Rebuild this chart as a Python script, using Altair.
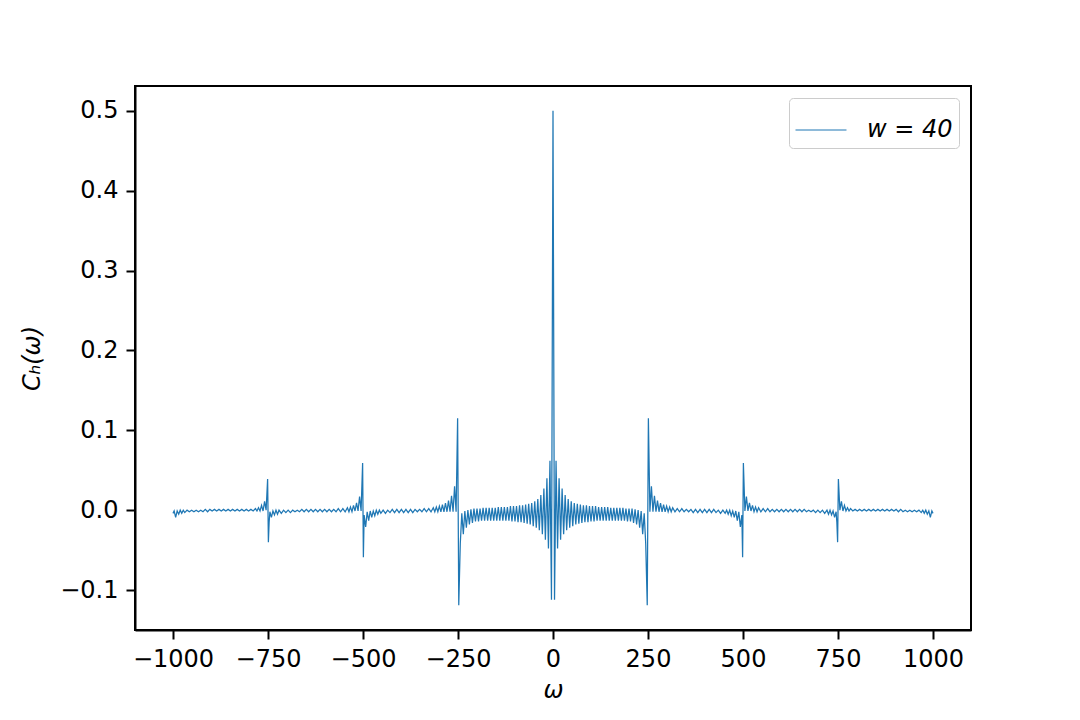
import altair as alt
import pandas as pd

# ---- data (positive half, omega >= 0; the curve is symmetric about omega = 0) ----
omega_a = [0, 4, 8, 12, 16, 20, 24, 28, 32, 36, 40, 44, 48, 52, 56, 60, 64, 68, 72, 76,
           80, 84, 88, 92, 96, 100, 104, 108, 112, 116, 120, 124, 128, 132, 136, 140,
           144, 148, 152, 156, 160, 164, 168, 172, 176, 180, 184, 188, 192, 196, 200,
           204, 208, 212, 216, 220, 224, 228, 232, 236, 240, 244, 248]
c_a = [0.5, -0.112, 0.062, -0.048, 0.040, -0.037, 0.027, -0.030, 0.019, -0.025,
       0.014, -0.022, 0.011, -0.020, 0.009, -0.018, 0.008, -0.017, 0.007, -0.016,
       0.006, -0.015, 0.006, -0.015, 0.005, -0.014, 0.005, -0.014, 0.005, -0.013,
       0.004, -0.013, 0.004, -0.013, 0.004, -0.013, 0.004, -0.013, 0.003, -0.013,
       0.003, -0.013, 0.003, -0.013, 0.003, -0.013, 0.003, -0.013, 0.002, -0.014,
       0.002, -0.014, 0.002, -0.016, 0.001, -0.018, 0.000, -0.022, -0.001, -0.030,
       -0.004, -0.042, -0.119]

omega_b = [251, 255, 259, 263, 267, 271, 275, 279, 283, 287, 291, 295, 299, 303, 307,
           311, 315, 321, 327, 333, 339, 345, 351, 357, 363, 369, 375, 381, 387, 393,
           399, 405, 411, 417, 423, 429, 435, 441, 447, 453, 457, 461, 465, 469, 473,
           477, 481, 485, 489, 493, 497, 499]
c_b = [0.115, -0.002, 0.030, -0.002, 0.018, -0.002, 0.012, -0.002, 0.009, -0.002,
       0.007, -0.002, 0.005, -0.002, 0.004, -0.002, 0.003, -0.002, 0.002, -0.002,
       0.002, -0.002, 0.001, -0.002, 0.001, -0.003, 0.001, -0.003, 0.001, -0.003,
       0.001, -0.003, 0.001, -0.003, 0.001, -0.003, 0.000, -0.004, 0.000, -0.004,
       0.000, -0.005, 0.000, -0.007, -0.001, -0.009, -0.001, -0.013, -0.002, -0.021,
       -0.006, -0.059]

omega_c = [501, 505, 509, 513, 517, 521, 525, 529, 533, 537, 541, 547, 553, 559, 565,
           571, 577, 583, 589, 595, 601, 607, 613, 619, 625, 631, 637, 643, 649, 655,
           661, 667, 673, 679, 685, 691, 697, 703, 709, 715, 721, 725, 729, 733, 737,
           741, 745, 747, 749]
c_c = [0.059, -0.001, 0.017, -0.001, 0.009, -0.001, 0.006, -0.002, 0.004, -0.002,
       0.003, -0.002, 0.002, -0.002, 0.002, -0.002, 0.001, -0.002, 0.001, -0.002,
       0.001, -0.002, 0.001, -0.002, 0.001, -0.002, 0.001, -0.002, 0.001, -0.002,
       0.001, -0.002, 0.000, -0.002, 0.000, -0.003, 0.000, -0.003, 0.000, -0.004,
       0.000, -0.005, 0.000, -0.006, -0.001, -0.009, -0.002, -0.015, -0.040]

omega_d = [751, 755, 759, 763, 767, 771, 775, 779, 783, 789, 795, 801, 807, 813, 819,
           825, 831, 837, 843, 849, 855, 861, 867, 873, 879, 885, 891, 897, 903, 909,
           915, 921, 927, 933, 939, 945, 951, 957, 963, 969, 973, 977, 981, 985, 989,
           993, 997, 1000]
c_d = [0.039, 0.000, 0.011, -0.001, 0.006, -0.001, 0.003, -0.001, 0.002, -0.001,
       0.001, -0.001, 0.001, -0.001, 0.001, -0.001, 0.001, -0.001, 0.001, -0.001,
       0.001, -0.001, 0.001, -0.001, 0.001, -0.001, 0.001, -0.001, 0.001, -0.002,
       0.001, -0.002, 0.000, -0.002, 0.000, -0.002, 0.000, -0.002, 0.000, -0.003,
       0.000, -0.004, 0.000, -0.005, -0.001, -0.009, -0.001, -0.004]

x_ticks = [-1000, -750, -500, -250, 0, 250, 500, 750, 1000]
y_ticks = [-0.1, 0.0, 0.1, 0.2, 0.3, 0.4, 0.5]
series_label = "w = 40"

half_x = omega_a + omega_b + omega_c + omega_d
half_y = c_a + c_b + c_c + c_d
omega = [-v for v in reversed(half_x[1:])] + half_x
cvals = list(reversed(half_y[1:])) + half_y

df = pd.DataFrame({"omega": omega, "C": cvals, "series": [series_label] * len(omega)})

line = alt.Chart(df).mark_line(strokeWidth=1.25, clip=True).encode(
    x=alt.X("omega:Q",
            scale=alt.Scale(domain=[-1100, 1100], nice=False, zero=False),
            axis=alt.Axis(values=x_ticks, format="d", title="ω", titleFontStyle="italic",
                          titlePadding=7)),
    y=alt.Y("C:Q",
            scale=alt.Scale(domain=[-0.15, 0.531], nice=False, zero=False),
            axis=alt.Axis(values=y_ticks, format=".1f", title="Cₕ(ω)", titleFontStyle="italic",
                          titlePadding=15)),
    color=alt.Color("series:N",
                    scale=alt.Scale(range=["#1f77b4"]),
                    legend=alt.Legend(title=None, orient="top-right", offset=12,
                                      symbolType="stroke", symbolSize=2600,
                                      symbolStrokeWidth=1, labelFontSize=24,
                                      labelFontStyle="italic",
                                      fillColor="white", strokeColor="#cccccc",
                                      cornerRadius=4, padding=6, labelOffset=20)),
    order=alt.Order("omega:Q"),
)

chart = line.properties(
    width=836, height=544,
    autosize=alt.AutoSizeParams(type="none"),
    padding={"left": 127, "top": 78, "right": 101, "bottom": 82},
).configure(
    font="DejaVu Sans",
).configure_view(
    stroke="black", strokeWidth=2,
).configure_axis(
    grid=False, domainColor="black", domainWidth=2, tickColor="black", tickWidth=2,
    tickSize=9, labelPadding=8, labelFontSize=24, labelColor="black",
    titleFontSize=24, titleFontWeight="normal", titleColor="black", labelFont="DejaVu Sans",
    titleFont="DejaVu Sans",
).configure_legend(
    labelFont="DejaVu Sans", labelColor="black",
)

chart.save("out.html", embed_options={"renderer": "svg", "actions": False})
